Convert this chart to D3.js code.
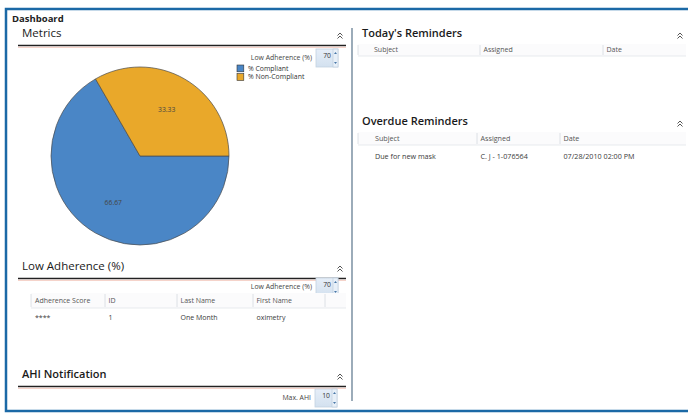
<!DOCTYPE html>
<html><head><meta charset="utf-8">
<script src="https://cdn.jsdelivr.net/npm/d3@7/dist/d3.min.js"></script>
<style>
html,body{margin:0;padding:0;background:#fff;overflow:hidden;}
svg{display:block;font-family:"Open Sans","Noto Sans",sans-serif;}
</style></head><body>
<svg id="c" width="688" height="414"></svg>
<script>
// ---- data ----
const categories = ["% Compliant", "% Non-Compliant"];
const values = [66.67, 33.33];
const lowAdhCols = ["Adherence Score", "ID", "Last Name", "First Name"];
const lowAdhRow = ["****", "1", "One Month", "oximetry"];
const remCols = ["Subject", "Assigned", "Date"];
const overdueRow = ["Due for new mask", "C. J - 1-076564", "07/28/2010 02:00 PM"];
const spinnerLabels = ["Low Adherence (%)", "Low Adherence (%)", "Max. AHI"];
const spinnerValues = ["70", "70", "10"];

const svg = d3.select("#c");
const colors = ["#4a86c6", "#e9a82a"];

// outer frame
svg.append("rect").attr("x",6).attr("y",9).attr("width",720).attr("height",402)
  .attr("fill","none").attr("stroke","#1b69a6").attr("stroke-width",2.5);
// divider
svg.append("line").attr("x1",352).attr("x2",352).attr("y1",28).attr("y2",401)
  .attr("stroke","#8397a8").attr("stroke-width",1.6);

svg.append("text").attr("x",12).attr("y",22).attr("font-size",9.5).attr("font-weight",700)
  .attr("fill","#222").text("Dashboard");

function heading(x, y, x2, label, weight, size){
  svg.append("text").attr("x",x).attr("y",y).attr("font-size",size).attr("font-weight",weight)
    .attr("fill","#1a1a1a").text(label);
  svg.append("line").attr("x1",x-4).attr("x2",x2).attr("y1",y+8.5).attr("y2",y+8.5)
    .attr("stroke","#222").attr("stroke-width",1.5);
  svg.append("line").attr("x1",x-4).attr("x2",x2).attr("y1",y+10.3).attr("y2",y+10.3)
    .attr("stroke","#f3c9bd").attr("stroke-width",1);
  const cx = x2-6, cy = y-3;
  [0,3].forEach(d=>{
    svg.append("path").attr("d",`M${cx-2.5},${cy+d+1.5} L${cx},${cy+d-1} L${cx+2.5},${cy+d+1.5}`)
      .attr("fill","none").attr("stroke","#555").attr("stroke-width",1);
  });
}
heading(22, 37, 346, "Metrics", 400, 11.5);
heading(22, 270, 346, "Low Adherence (%)", 400, 11.5);
heading(22, 378, 346, "AHI Notification", 600, 11);
heading(362, 37, 686, "Today's Reminders", 600, 11);
heading(362, 125, 686, "Overdue Reminders", 600, 11);

const defs = svg.append("defs");
const lg = defs.append("linearGradient").attr("id","sg").attr("x1",0).attr("x2",0).attr("y1",0).attr("y2",1);
lg.append("stop").attr("offset","0").attr("stop-color","#e6eef8");
lg.append("stop").attr("offset","1").attr("stop-color","#d3e1ef");

function spinner(xr, y, label, val){
  svg.append("text").attr("x",xr-4).attr("y",y+3).attr("text-anchor","end")
    .attr("font-size",6.9).attr("fill","#444").text(label);
  const g = svg.append("g");
  g.append("rect").attr("x",xr).attr("y",y-8).attr("width",22).attr("height",18)
    .attr("fill","url(#sg)").attr("stroke","#c4d3e2").attr("stroke-width",0.8);
  g.append("text").attr("x",xr+15).attr("y",y+1).attr("text-anchor","end")
    .attr("font-size",6.8).attr("fill","#333").text(val);
  g.append("rect").attr("x",xr+17).attr("y",y-8).attr("width",5).attr("height",18)
    .attr("fill","#e8f0f8").attr("stroke","#b9cadb").attr("stroke-width",0.6);
  g.append("path").attr("d",`M${xr+18},${y-3} L${xr+19.5},${y-5} L${xr+21},${y-3}Z`).attr("fill","#4a78a8");
  g.append("path").attr("d",`M${xr+18},${y+5} L${xr+19.5},${y+7} L${xr+21},${y+5}Z`).attr("fill","#4a78a8");
}
spinner(316, 57, spinnerLabels[0], spinnerValues[0]);
spinner(316, 286, spinnerLabels[1], spinnerValues[1]);
spinner(315, 397, spinnerLabels[2], spinnerValues[2]);

// ---- pie ----
const cx = 140, cy = 156, R = 89;
const pie = d3.pie().sort(null).startAngle(Math.PI/2).endAngle(Math.PI/2 + 2*Math.PI);
const arcs = pie(values);
const arc = d3.arc().innerRadius(0).outerRadius(R);
const labelArc = d3.arc().innerRadius(R*0.6).outerRadius(R*0.6);
const pg = svg.append("g").attr("transform",`translate(${cx},${cy})`);
pg.selectAll("path").data(arcs).join("path").attr("d",arc)
  .attr("fill",(d,i)=>colors[i]).attr("stroke","#4b4b4b").attr("stroke-width",0.7);
pg.selectAll("text").data(arcs).join("text")
  .attr("transform",d=>`translate(${labelArc.centroid(d)})`)
  .attr("text-anchor","middle").attr("dy","0.35em").attr("font-size",6.8).attr("fill","#444")
  .text(d=>d3.format(".2f")(d.data));

// legend
const lgd = svg.append("g").attr("transform","translate(237,65)");
categories.forEach((c,i)=>{
  lgd.append("rect").attr("x",0).attr("y",i*8.6).attr("width",6.8).attr("height",6.8)
    .attr("fill",colors[i]).attr("stroke","#333").attr("stroke-width",0.6);
  lgd.append("text").attr("x",11).attr("y",i*8.6+5.8).attr("font-size",6.9).attr("fill","#333").text(c);
});

// ---- tables ----
function table(x0, x1, y, colXs, cols, row, hdrH, firstPad, rowDy, fs){
  svg.append("rect").attr("x",x0).attr("y",y).attr("width",x1-x0).attr("height",hdrH)
    .attr("fill","#fbfbfc");
  svg.append("line").attr("x1",x0).attr("x2",x1).attr("y1",y+hdrH).attr("y2",y+hdrH)
    .attr("stroke","#e2e6ea").attr("stroke-width",0.8);
  colXs.forEach(cx=>{
    svg.append("line").attr("x1",cx).attr("x2",cx).attr("y1",y+1).attr("y2",y+hdrH-1)
      .attr("stroke","#d6dbe0").attr("stroke-width",0.8);
  });
  const tx = i => colXs[i] + (i===0 ? firstPad : 3.5);
  cols.forEach((c,i)=>{
    svg.append("text").attr("x",tx(i)).attr("y",y+hdrH/2+2.4).attr("font-size",fs)
      .attr("fill","#555").text(c);
  });
  if(row){
    row.forEach((c,i)=>{
      svg.append("text").attr("x",tx(i)).attr("y",y+hdrH+rowDy).attr("font-size",fs)
        .attr("fill","#3a3a3a").text(c);
    });
  }
}
table(31, 346, 293, [31,105,177,253,325], lowAdhCols, lowAdhRow, 15, 4, 12, 7);
table(358, 686, 44, [358,480,603], remCols, null, 12, 16, 12, 7);
table(358, 686, 132, [358,477,560], remCols, overdueRow, 13, 17, 14, 7.2);
</script>
</body></html>
